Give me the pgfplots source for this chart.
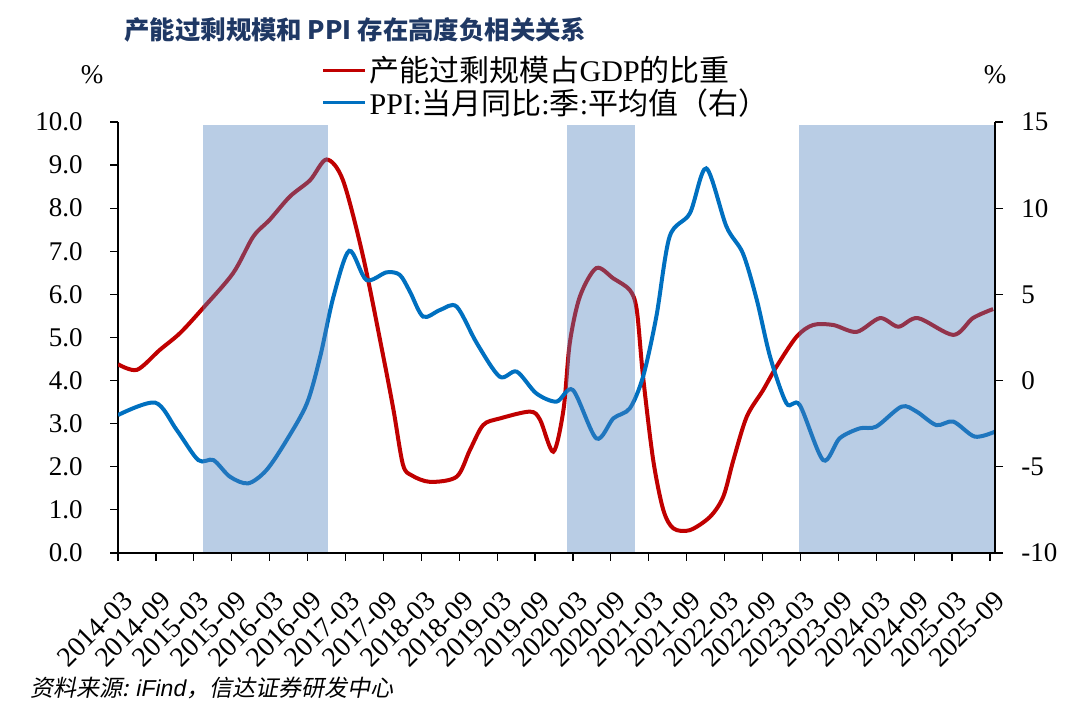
\documentclass[border=0pt]{standalone}
\usepackage{pgfplots}
\pgfplotsset{compat=1.18}
\usepackage{fontspec}
\setmainfont{Liberation Serif}
\newfontfamily\cjk{Noto Sans CJK SC}
\newfontfamily\cjkit{Noto Sans CJK SC}[FakeSlant=0.2]
\newfontfamily\arial{Liberation Sans}
\definecolor{myred}{RGB}{192,0,0}
\definecolor{myblue}{RGB}{0,112,192}
\definecolor{shade}{RGB}{79,129,189}
\definecolor{titleblue}{RGB}{31,56,100}

\pgfplotstableread{
m v
0 4.38
3 4.25
6.6 4.71
9.8 5.1
13.2 5.64
18.2 6.49
21.4 7.34
24 7.73
27.2 8.27
30.4 8.65
33 9.13
35.6 8.65
38.8 6.87
42 4.55
43.6 3.32
45.1 2.05
46.5 1.8
49.4 1.65
53.6 1.77
55.7 2.39
57.8 2.97
60.4 3.12
65.2 3.28
66.8 3.09
68.9 2.35
70.5 3.32
71.5 4.87
73.1 5.95
75.7 6.61
78.4 6.37
81 6.1
82.1 5.64
83.1 4.09
84.7 2.16
86.3 1.0
87.9 0.57
90.5 0.53
93.7 0.84
95.8 1.31
97.4 2.16
99.5 3.16
102.1 3.78
104.2 4.32
107.4 5.02
110 5.29
113.2 5.29
116.9 5.13
120.6 5.45
123.5 5.25
126.6 5.45
132.2 5.06
135.3 5.45
138.5 5.66
}\overcap

\pgfplotstableread{
m v
0 -2.0
5.9 -1.28
9.3 -2.87
12.7 -4.61
15.1 -4.61
17.7 -5.57
20.6 -5.96
23.5 -5.19
26.7 -3.45
29.9 -1.32
32 1.39
34.1 4.87
36.6 7.53
39.3 5.84
42.5 6.28
44.6 6.13
46.2 5.16
48.3 3.71
51 4.1
53.6 4.29
56.8 2.16
60.4 0.23
63.1 0.52
66.2 -0.74
69.4 -1.22
72 -0.55
75.7 -3.35
78.4 -2.19
81 -1.61
83.1 0.23
85.2 3.71
87.3 8.35
90.5 9.7
93.1 12.31
96.3 8.93
98.9 7.38
101.1 4.68
103.2 1.39
105.8 -1.32
107.9 -1.42
111.6 -4.61
114.2 -3.35
117.4 -2.77
120 -2.67
124 -1.51
126.4 -1.8
129.5 -2.58
132.2 -2.38
135.6 -3.25
138.8 -2.96
}\ppi

\begin{document}
\begin{tikzpicture}
\useasboundingbox (0,0) rectangle (540pt,358.5pt);
\pgfplotsset{
  base/.style={
    scale only axis, width=438.5pt, height=215.5pt,
    at={(59pt,82pt)}, anchor=south west,
    xmin=0, xmax=138.8,
    xtick={0,6,...,138},
    tick align=outside, major tick length=4pt,
    tick style={black, line width=0.6pt},
    axis line style={-, black, line width=0.7pt},
    tick label style={font=\fontsize{13.5}{15}\selectfont},
    /pgf/number format/assume math mode=true,
  }
}
\begin{axis}[base,
  axis y line*=left, axis x line*=bottom,
  ymin=0, ymax=10, ytick={0,1,...,10},
  yticklabel style={inner sep=0pt, xshift=-13.5pt, /pgf/number format/.cd, fixed, fixed zerofill, precision=1},
  xticklabels={2014-03,2014-09,2015-03,2015-09,2016-03,2016-09,2017-03,2017-09,2018-03,2018-09,2019-03,2019-09,2020-03,2020-09,2021-03,2021-09,2022-03,2022-09,2023-03,2023-09,2024-03,2024-09,2025-03,2025-09},
  xticklabel style={yshift=-14pt, xshift=1.5pt, rotate=45, anchor=north east, inner sep=0pt, font=\fontsize{14}{15}\selectfont},
]
\addplot[myred, line width=2pt, smooth] table[x=m, y=v] {\overcap};
\end{axis}
\begin{axis}[base,
  axis on top,
  axis y line*=right, axis x line*=bottom,
  xticklabels={},
  ymin=-10, ymax=15, ytick={-10,-5,...,15},
  yticklabel style={inner sep=0pt, xshift=9pt},
  legend style={draw=none, fill=none, at={(0.225,1.17)}, anchor=north west,
    font=\fontsize{15}{18}\selectfont, row sep=-1pt,
    nodes={inner sep=1.5pt}},
  legend cell align=left,
  legend image code/.code={\draw[#1, line width=1.5pt] (0pt,0pt) -- (21pt,0pt);},
]
\addlegendimage{myred}
\addlegendentry{{\cjk 产能过剩规模占}GDP{\cjk 的比重}}
\addplot[myblue, line width=2pt, smooth] table[x=m, y=v] {\ppi};
\addlegendentry{PPI:{\cjk 当月同比}:{\cjk 季}:{\cjk 平均值（右）}}
\addplot[fill=shade, fill opacity=0.4, draw=none, forget plot] coordinates {(13.4,-10) (13.4,14.83) (33.3,14.83) (33.3,-10)} -- cycle;
\addplot[fill=shade, fill opacity=0.4, draw=none, forget plot] coordinates {(71.0,-10) (71.0,14.85) (81.8,14.85) (81.8,-10)} -- cycle;
\addplot[fill=shade, fill opacity=0.4, draw=none, forget plot] coordinates {(107.8,-10) (107.8,14.85) (138.8,14.85) (138.8,-10)} -- cycle;
\end{axis}
\node[anchor=west, inner sep=0pt, text=titleblue, font=\cjk\bfseries\fontsize{12.7}{15}\selectfont] at (62pt,343.5pt) {产能过剩规模和 PPI 存在高度负相关关系};
\node[anchor=west, inner sep=0pt, font=\fontsize{11.5}{14}\selectfont] at (15pt,14.5pt) {{\cjkit 资料来源:} {\arial\itshape iFind}{\cjkit ，信达证券研发中心}};
\node[font=\fontsize{13.5}{15}\selectfont] at (46pt,321pt) {\%};
\node[font=\fontsize{13.5}{15}\selectfont] at (497.5pt,321pt) {\%};
\end{tikzpicture}
\end{document}
